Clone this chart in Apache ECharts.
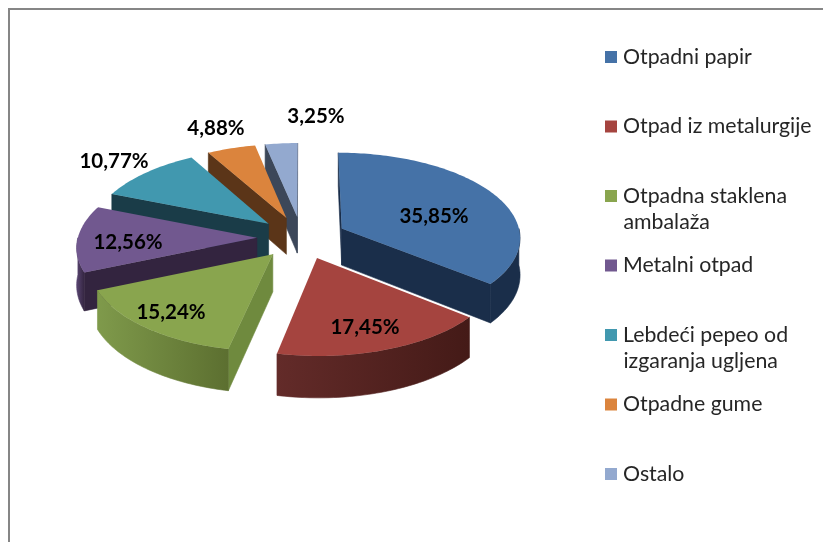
<!DOCTYPE html>
<html>
<head>
<meta charset="utf-8">
<style>html,body{margin:0;padding:0;background:#fff}#graph{width:823px;height:542px}</style>
<script src="https://cdn.jsdelivr.net/npm/echarts@6/dist/echarts.min.js"></script>
</head>
<body>
<div id="graph"></div>
<script>
// 3D pie, exploded, drawn with custom series
var categories = ['Otpadni papir', 'Otpad iz metalurgije', 'Otpadna staklena\nambalaža', 'Metalni otpad',
                  'Lebdeći pepeo od\nizgaranja ugljena', 'Otpadne gume', 'Ostalo'];
var values = [35.85, 17.45, 15.24, 12.56, 10.77, 4.88, 3.25];

var colors     = ['#4572A7', '#A5443F', '#89A54E', '#71588F', '#4198AF', '#DB843D', '#93A9CF'];
var radialWall = ['#1A2E4A', '#441A17', '#6F8A3E', '#33243F', '#1A3C48', '#5B3518', '#3C4759'];
var rimLeft    = ['#1A2E4A', '#632B29', '#7F9A4B', '#5A4673', '#1A3C48', '#5B3518', '#3C4759'];
var rimRight   = ['#1A2E4A', '#441A17', '#5C6F30', '#33243F', '#1A3C48', '#5B3518', '#3C4759'];
// paint order, far slices first
var paintOrder = [5, 6, 4, 3, 2, 1, 0];
var labelPos = [[434, 216], [365, 327], [171, 312], [128, 242], [114, 161], [216, 128], [316, 116]];

var cx = 301.7, cy = 237.5, rx = 179, ry = 84.6, depth = 37, explode = 0.25, persp = 0.095;
var total = values.reduce(function (a, b) { return a + b; }, 0);

function project(u, v, h) {
    var s = 1 / (1 - persp * v);
    return [cx + rx * u * s, cy + (ry * v + h * depth) * s];
}
function sliceAngles(i) {
    var start = 0;
    for (var k = 0; k < i; k++) start += values[k];
    return [start / total * 2 * Math.PI, (start + values[i]) / total * 2 * Math.PI];
}
// point on the slice at radius r and angle a (clockwise from top)
function slicePoint(i, r, a, h) {
    var ang = sliceAngles(i), mid = (ang[0] + ang[1]) / 2;
    return project(explode * Math.sin(mid) + r * Math.sin(a), -explode * Math.cos(mid) - r * Math.cos(a), h);
}
function arcPoints(i, a0, a1, h) {
    var pts = [], n = Math.max(2, Math.ceil((a1 - a0) / 0.02));
    for (var k = 0; k <= n; k++) pts.push(slicePoint(i, 1, a0 + (a1 - a0) * k / n, h));
    return pts;
}
function wall(i, a) {
    return {
        type: 'polygon',
        shape: { points: [slicePoint(i, 0, a, 0), slicePoint(i, 1, a, 0), slicePoint(i, 1, a, 1), slicePoint(i, 0, a, 1)] },
        style: { fill: radialWall[i], stroke: radialWall[i], lineWidth: 0.6 }
    };
}

function renderSlice(params, api) {
    var i = params.seriesIndex;
    var ang = sliceAngles(i), children = [];
    var apex = slicePoint(i, 0, 0, 0);
    // radial faces, only the ones turned to the viewer
    if (slicePoint(i, 1, ang[0], 0)[0] < apex[0]) children.push(wall(i, ang[0]));
    if (slicePoint(i, 1, ang[1], 0)[0] > apex[0]) children.push(wall(i, ang[1]));
    // outer curved face, front half only
    var a0 = Math.max(ang[0], Math.PI / 2), a1 = Math.min(ang[1], 3 * Math.PI / 2);
    if (a1 > a0) {
        var rim = arcPoints(i, a0, a1, 0).concat(arcPoints(i, a0, a1, 1).reverse());
        var rimFill = {
            type: 'linear', x: 0, y: 0, x2: 1, y2: 0,
            colorStops: [{ offset: 0, color: rimLeft[i] }, { offset: 1, color: rimRight[i] }]
        };
        children.push({
            type: 'polygon',
            shape: { points: rim },
            style: { fill: rimFill, stroke: rimFill, lineWidth: 0.6 }
        });
    }
    // top face
    children.push({
        type: 'polygon',
        shape: { points: [apex].concat(arcPoints(i, ang[0], ang[1], 0)) },
        style: { fill: colors[i] }
    });
    children.push({
        type: 'text',
        x: labelPos[i][0], y: labelPos[i][1],
        style: {
            text: api.value(0).toFixed(2).replace('.', ',') + '%',
            fill: '#000', font: 'bold 20.5px Lato', align: 'center', verticalAlign: 'middle'
        }
    });
    return { type: 'group', children: children };
}

var serieData = [], legends = [], extraLines = [];
for (var v = 0; v < categories.length; v++) {
    serieData.push({
        name: categories[v],
        type: 'custom',
        coordinateSystem: 'none',
        z: 2 + paintOrder[v],
        itemStyle: { color: colors[v] },
        renderItem: renderSlice,
        data: [[values[v]]]
    });
    var legendTop = 41.5 + v * 69.5;
    legends.push({
        data: [categories[v]],
        left: 600, top: legendTop,
        icon: 'rect', itemWidth: 12, itemHeight: 12,
        selectedMode: false,
        formatter: function (name) { return name.split('\n')[0]; },
        textStyle: { color: '#262626', fontSize: 21.3, fontFamily: 'Lato', padding: [0, 0, 0, 1] }
    });
    var second = categories[v].split('\n')[1];
    if (second) {
        extraLines.push({
            type: 'text', left: 623.5, top: legendTop + 31.5,
            style: { text: second, fill: '#262626', font: '21.3px Lato' }
        });
    }
}

var myChart = echarts.init(document.getElementById('graph'));
myChart.setOption({
    backgroundColor: '#fff',
    animation: false,
    legend: legends,
    graphic: extraLines.concat([
        { type: 'line', shape: { x1: 9, y1: 9, x2: 823, y2: 9 }, style: { stroke: '#868686', lineWidth: 2 } },
        { type: 'line', shape: { x1: 9, y1: 8, x2: 9, y2: 542 }, style: { stroke: '#868686', lineWidth: 2 } }
    ]),
    series: serieData
});
</script>
</body>
</html>
